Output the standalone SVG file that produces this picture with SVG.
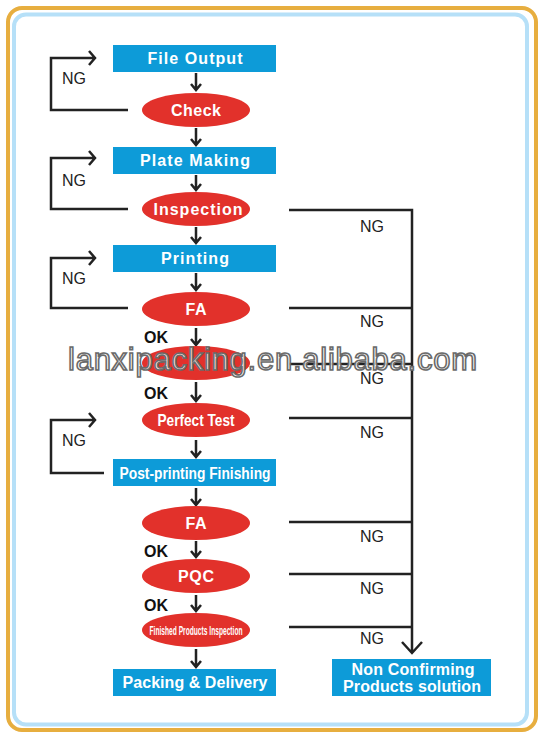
<svg xmlns="http://www.w3.org/2000/svg" width="545" height="740" viewBox="0 0 545 740">
<style>
.box{fill:#0d9bd8}
.ell{fill:#e2312b}
.bt{fill:#fff;font-family:"Liberation Sans",Arial,sans-serif;font-weight:bold;font-size:16px;text-anchor:middle}
.ct{fill:#fff;font-family:"Liberation Sans",Arial,sans-serif;font-weight:bold;text-anchor:middle}
.ln{fill:none;stroke:#222;stroke-width:2.5}
.ng{fill:#222;font-family:"Liberation Sans",Arial,sans-serif;font-size:16px}
.ok{fill:#111;font-family:"Liberation Sans",Arial,sans-serif;font-size:16px;font-weight:bold}
</style>
<rect x="0" y="0" width="545" height="740" fill="#fff"/>
<rect x="8" y="8" width="528" height="722" rx="14" fill="none" stroke="#e7ae3f" stroke-width="4"/>
<rect x="14" y="14.5" width="513" height="710" rx="12" fill="none" stroke="#b6e0f8" stroke-width="4"/>

<g id="connectors">
  <path class="ln" d="M196,73V90M191,84L196,90L201,84"/>
  <path class="ln" d="M196,128V145M191,139L196,145L201,139"/>
  <path class="ln" d="M196,175V190M191,184L196,190L201,184"/>
  <path class="ln" d="M196,227V243M191,237L196,243L201,237"/>
  <path class="ln" d="M196,273V290M191,284L196,290L201,284"/>
  <path class="ln" d="M196,328V345M191,339L196,345L201,339"/>
  <path class="ln" d="M196,382V401M191,395L196,401L201,395"/>
  <path class="ln" d="M196,440V457M191,451L196,457L201,451"/>
  <path class="ln" d="M196,488V505M191,499L196,505L201,499"/>
  <path class="ln" d="M196,541V557M191,551L196,557L201,551"/>
  <path class="ln" d="M196,595V611M191,605L196,611L201,605"/>
  <path class="ln" d="M196,649V667M191,661L196,667L201,661"/>
  <path class="ln" d="M128,110H51V58H95M89,51L95,58L89,65"/>
  <path class="ln" d="M128,209H51V158H95M89,151L95,158L89,165"/>
  <path class="ln" d="M128,308H51V258H95M89,251L95,258L89,265"/>
  <path class="ln" d="M104,473H51V420H95M89,413L95,420L89,427"/>
  <path class="ln" d="M289,210H412V653M402,642L412,653L422,642"/>
  <path class="ln" d="M289,308H412"/>
  <path class="ln" d="M289,364H412"/>
  <path class="ln" d="M289,418H412"/>
  <path class="ln" d="M289,522H412"/>
  <path class="ln" d="M289,574H412"/>
  <path class="ln" d="M289,627H412"/>
  <text class="ng" x="62" y="84">NG</text>
  <text class="ng" x="62" y="186">NG</text>
  <text class="ng" x="62" y="284">NG</text>
  <text class="ng" x="62" y="446">NG</text>
  <text class="ng" x="360" y="232">NG</text>
  <text class="ng" x="360" y="327">NG</text>
  <text class="ng" x="360" y="384">NG</text>
  <text class="ng" x="360" y="438">NG</text>
  <text class="ng" x="360" y="542">NG</text>
  <text class="ng" x="360" y="594">NG</text>
  <text class="ng" x="360" y="644">NG</text>
  <text class="ok" x="144" y="343">OK</text>
  <text class="ok" x="144" y="399">OK</text>
  <text class="ok" x="144" y="557">OK</text>
  <text class="ok" x="144" y="611">OK</text>
</g>

<g id="file-output"><rect class="box" x="113" y="45" width="163" height="27"/><text class="bt" x="195" y="64" textLength="95">File Output</text></g>
<g id="check"><ellipse class="ell" cx="196" cy="110" rx="54" ry="17"/><text class="ct" x="196" y="116" font-size="16" textLength="50">Check</text></g>
<g id="plate-making"><rect class="box" x="113" y="147" width="163" height="27"/><text class="bt" x="195" y="166" textLength="110">Plate Making</text></g>
<g id="inspection"><ellipse class="ell" cx="196" cy="209" rx="54" ry="17"/><text class="ct" x="198" y="215" font-size="16" textLength="89">Inspection</text></g>
<g id="printing"><rect class="box" x="113" y="245" width="163" height="27"/><text class="bt" x="195" y="264" textLength="68">Printing</text></g>
<g id="fa1"><ellipse class="ell" cx="196" cy="309" rx="54" ry="17"/><text class="ct" x="196" y="315" font-size="16" textLength="21">FA</text></g>
<g id="hidden-check"><ellipse class="ell" cx="196" cy="363" rx="54" ry="17"/></g>
<g id="perfect-test"><ellipse class="ell" cx="196" cy="420" rx="54" ry="17"/><text class="ct" x="196" y="426" font-size="17" textLength="77" lengthAdjust="spacingAndGlyphs">Perfect Test</text></g>
<g id="post-printing"><rect class="box" x="113" y="459" width="163" height="27"/><text class="bt" x="195" y="479" font-size="17" textLength="151" lengthAdjust="spacingAndGlyphs">Post-printing Finishing</text></g>
<g id="fa2"><ellipse class="ell" cx="196" cy="523" rx="54" ry="17"/><text class="ct" x="196" y="529" font-size="16" textLength="21">FA</text></g>
<g id="pqc"><ellipse class="ell" cx="196" cy="576" rx="54" ry="17"/><text class="ct" x="196" y="582" font-size="16" textLength="36">PQC</text></g>
<g id="finished-inspection"><ellipse class="ell" cx="196" cy="630" rx="54" ry="17"/><text class="ct" x="196" y="635" font-size="13" textLength="93" lengthAdjust="spacingAndGlyphs">Finished Products Inspection</text></g>
<g id="packing-delivery"><rect class="box" x="113" y="669" width="163" height="27"/><text class="bt" x="195" y="688" textLength="145">Packing &amp; Delivery</text></g>
<g id="non-confirming"><rect class="box" x="332" y="659" width="159" height="37"/><text class="bt" x="413" y="675" textLength="123">Non Confirming</text><text class="bt" x="412" y="692" textLength="138">Products solution</text></g>

<text x="68" y="370" font-family="'Liberation Sans',Arial,sans-serif" font-size="31" textLength="409" fill="#fff" fill-opacity="0.85" stroke="#6a6a6a" stroke-width="1.6">lanxipacking.en.alibaba.com</text>
</svg>
